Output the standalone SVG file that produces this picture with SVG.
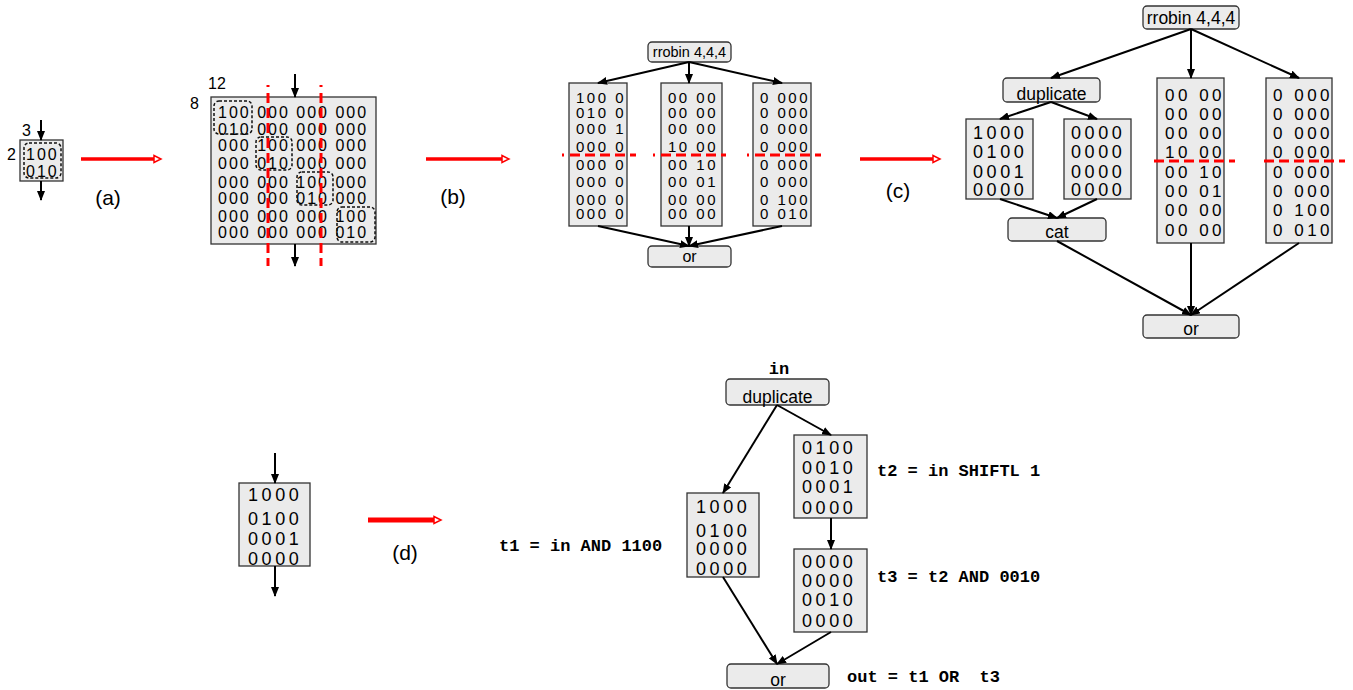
<svg xmlns="http://www.w3.org/2000/svg" width="1353" height="690" viewBox="0 0 1353 690">
<style>
.box{fill:#ebebeb;stroke:#333;stroke-width:1.3}
.dash{fill:none;stroke:#111;stroke-width:1.5;stroke-dasharray:3 2}
.ed{fill:none;stroke:#000;stroke-width:2;marker-end:url(#ah)}
.red{fill:none;stroke:#f00;stroke-width:3.5;marker-end:url(#rh)}
.rd{fill:none;stroke:#f00;stroke-width:3;stroke-dasharray:2 6 10 5 10 5 10 5 10 5 10 5 10 5 10 5 10 5 10 5 10 5 10 5 10 5 10 5}
.rdc{fill:none;stroke:#f00;stroke-width:3;stroke-dasharray:10 5}
text{font-family:"Liberation Sans",Arial,sans-serif;fill:#000}
.m15{font-size:16px;letter-spacing:2px}
.m14{font-size:15px;letter-spacing:2.5px}
.m17{font-size:17px;letter-spacing:3.5px}
.m17w{font-size:18px;letter-spacing:3.6px}
.cap{font-size:21px;text-anchor:middle}
.num{font-size:16px}
.code{font-family:"Liberation Mono","Courier New",monospace;font-weight:bold;font-size:17px;white-space:pre}
</style>
<defs>
<marker id="ah" markerUnits="userSpaceOnUse" markerWidth="10" markerHeight="8" refX="9" refY="4" orient="auto">
<path d="M0,0 L10,4 L0,8 z" fill="#000"/>
</marker>
<marker id="rh" markerUnits="userSpaceOnUse" markerWidth="10" markerHeight="10" refX="2" refY="5" orient="auto">
<path d="M1,1.5 L8,5 L1,8.5 z" fill="#fff" stroke="#f00" stroke-width="1.5"/>
</marker>
</defs>

<!-- (a) small -->
<g id="a-small">
<rect class="box" x="20" y="140" width="43" height="41"/>
<rect class="dash" x="24" y="143" width="37" height="35" rx="5"/>
<text class="m15" x="26" y="160">100</text>
<text class="m15" x="26" y="177">010</text>
<text class="num" x="22" y="136">3</text>
<text class="num" x="7" y="160">2</text>
</g>
<text class="cap" x="108" y="205">(a)</text>

<!-- (a) big -->
<g id="a-big">
<rect class="box" x="211" y="97" width="165" height="147"/>
<text class="m15" x="218" y="117.7">100 000 000 000</text>
<text class="m15" x="218" y="134.7">010 000 000 000</text>
<text class="m15" x="218" y="151.4">000 100 000 000</text>
<text class="m15" x="218" y="169">000 010 000 000</text>
<text class="m15" x="218" y="187.7">000 000 100 000</text>
<text class="m15" x="218" y="203.7">000 000 010 000</text>
<text class="m15" x="218" y="222">000 000 000 100</text>
<text class="m15" x="218" y="238.4">000 000 000 010</text>
<rect class="dash" x="214" y="101" width="38" height="33" rx="5"/>
<rect class="dash" x="256" y="137" width="36" height="33" rx="5"/>
<rect class="dash" x="297" y="172" width="36" height="33" rx="5"/>
<rect class="dash" x="337" y="207" width="38" height="35" rx="5"/>
<text class="num" x="208" y="89">12</text>
<text class="num" x="190" y="109">8</text>
</g>
<text class="cap" x="453" y="204">(b)</text>

<!-- (b) -->
<g id="b-rrobin"><rect class="box" x="648" y="42" width="83" height="20" rx="4"/><text x="689.5" y="57" style="font-size:14.5px;text-anchor:middle">rrobin 4,4,4</text></g>
<g id="b-m1"><rect class="box" x="569" y="83" width="58" height="143"/>
<text class="m14" x="576" y="103.3">100 0</text><text class="m14" x="576" y="117.7">010 0</text><text class="m14" x="576" y="134.3">000 1</text><text class="m14" x="576" y="151.7">000 0</text><text class="m14" x="576" y="170">000 0</text><text class="m14" x="576" y="186.7">000 0</text><text class="m14" x="576" y="205">000 0</text><text class="m14" x="576" y="219.3">000 0</text></g>
<g id="b-m2"><rect class="box" x="661" y="83" width="61" height="143"/>
<text class="m14" x="668" y="103.3">00 00</text><text class="m14" x="668" y="117.7">00 00</text><text class="m14" x="668" y="134.3">00 00</text><text class="m14" x="668" y="151.7">10 00</text><text class="m14" x="668" y="170">00 10</text><text class="m14" x="668" y="186.7">00 01</text><text class="m14" x="668" y="205">00 00</text><text class="m14" x="668" y="219.3">00 00</text></g>
<g id="b-m3"><rect class="box" x="753" y="83" width="58" height="143"/>
<text class="m14" x="760" y="103.3">0 000</text><text class="m14" x="760" y="117.7">0 000</text><text class="m14" x="760" y="134.3">0 000</text><text class="m14" x="760" y="151.7">0 000</text><text class="m14" x="760" y="170">0 000</text><text class="m14" x="760" y="186.7">0 000</text><text class="m14" x="760" y="205">0 100</text><text class="m14" x="760" y="219.3">0 010</text></g>
<g id="b-or"><rect class="box" x="648" y="246" width="83" height="21" rx="4"/><text x="689.5" y="262" style="font-size:16px;text-anchor:middle">or</text></g>
<text class="cap" x="898" y="198">(c)</text>

<!-- (c) -->
<g id="c-rrobin"><rect class="box" x="1143" y="6" width="96" height="23" rx="4"/><text x="1191" y="24" style="font-size:17.5px;text-anchor:middle">rrobin 4,4,4</text></g>
<g id="c-dup"><rect class="box" x="1003" y="78" width="97" height="24" rx="4"/><text x="1051.5" y="100" style="font-size:17.5px;text-anchor:middle">duplicate</text></g>
<g id="c-m1"><rect class="box" x="966" y="119" width="67" height="80"/>
<text class="m17w" x="973" y="139">1000</text><text class="m17w" x="973" y="158">0100</text><text class="m17w" x="973" y="178">0001</text><text class="m17w" x="973" y="196">0000</text></g>
<g id="c-m2"><rect class="box" x="1064" y="119" width="67" height="80"/>
<text class="m17w" x="1071" y="139">0000</text><text class="m17w" x="1071" y="158">0000</text><text class="m17w" x="1071" y="178">0000</text><text class="m17w" x="1071" y="196">0000</text></g>
<g id="c-cat"><rect class="box" x="1008" y="218" width="98" height="23" rx="4"/><text x="1057" y="238" style="font-size:17.5px;text-anchor:middle">cat</text></g>
<g id="c-m3"><rect class="box" x="1157" y="78" width="67" height="165"/>
<text class="m17" x="1165" y="100.5">00 00</text><text class="m17" x="1165" y="119.8">00 00</text><text class="m17" x="1165" y="139">00 00</text><text class="m17" x="1165" y="158.3">10 00</text><text class="m17" x="1165" y="177.6">00 10</text><text class="m17" x="1165" y="196.9">00 01</text><text class="m17" x="1165" y="216.2">00 00</text><text class="m17" x="1165" y="235.5">00 00</text></g>
<g id="c-m4"><rect class="box" x="1266" y="78" width="66" height="165"/>
<text class="m17" x="1273" y="100.5">0 000</text><text class="m17" x="1273" y="119.8">0 000</text><text class="m17" x="1273" y="139">0 000</text><text class="m17" x="1273" y="158.3">0 000</text><text class="m17" x="1273" y="177.6">0 000</text><text class="m17" x="1273" y="196.9">0 000</text><text class="m17" x="1273" y="216.2">0 100</text><text class="m17" x="1273" y="235.5">0 010</text></g>
<g id="c-or"><rect class="box" x="1143" y="315" width="96" height="23" rx="4"/><text x="1191" y="335" style="font-size:17.5px;text-anchor:middle">or</text></g>

<!-- (d) left -->
<g id="d-left"><rect class="box" x="239" y="483" width="71" height="83"/>
<text class="m17w" x="248" y="501">1000</text><text class="m17w" x="248" y="525">0100</text><text class="m17w" x="248" y="545">0001</text><text class="m17w" x="248" y="565">0000</text></g>
<text class="cap" x="405" y="560">(d)</text>

<!-- (d) right -->
<text class="code" x="779" y="374" text-anchor="middle">in</text>
<g id="d-dup"><rect class="box" x="726" y="379" width="103" height="26" rx="4"/><text x="777.5" y="403" style="font-size:17.5px;text-anchor:middle">duplicate</text></g>
<g id="d-t1"><rect class="box" x="687" y="493" width="72" height="84"/>
<text class="m17w" x="696" y="513">1000</text><text class="m17w" x="696" y="537">0100</text><text class="m17w" x="696" y="555">0000</text><text class="m17w" x="696" y="575">0000</text></g>
<g id="d-t2"><rect class="box" x="794" y="435" width="73" height="83"/>
<text class="m17w" x="802" y="454">0100</text><text class="m17w" x="802" y="474">0010</text><text class="m17w" x="802" y="493">0001</text><text class="m17w" x="802" y="514">0000</text></g>
<g id="d-t3"><rect class="box" x="794" y="549" width="73" height="83"/>
<text class="m17w" x="802" y="568">0000</text><text class="m17w" x="802" y="587">0000</text><text class="m17w" x="802" y="606">0010</text><text class="m17w" x="802" y="627">0000</text></g>
<g id="d-or"><rect class="box" x="727" y="664" width="102" height="24" rx="4"/><text x="778" y="686" style="font-size:17.5px;text-anchor:middle">or</text></g>
<text class="code" x="499" y="551">t1 = in AND 1100</text>
<text class="code" x="877" y="476">t2 = in SHIFTL 1</text>
<text class="code" x="877" y="582">t3 = t2 AND 0010</text>
<text class="code" x="847" y="682">out = t1 OR  t3</text>

<!-- connectors -->
<g id="connectors">
<line class="ed" x1="41" y1="120" x2="41" y2="140"/>
<line class="ed" x1="41" y1="181" x2="41" y2="200"/>
<line class="red" x1="81" y1="159" x2="155" y2="159"/>
<line class="ed" x1="295" y1="74" x2="295" y2="97"/>
<line class="ed" x1="295" y1="244" x2="295" y2="266"/>
<line class="rd" x1="268" y1="85" x2="268" y2="266"/>
<line class="rd" x1="321" y1="85" x2="321" y2="266"/>
<line class="red" x1="426" y1="159" x2="503" y2="159"/>
<line class="ed" x1="689" y1="62" x2="598" y2="83"/>
<line class="ed" x1="689" y1="62" x2="689" y2="83"/>
<line class="ed" x1="689" y1="62" x2="782" y2="83"/>
<line class="ed" x1="598" y1="226" x2="689" y2="246"/>
<line class="ed" x1="689" y1="226" x2="689" y2="246"/>
<line class="ed" x1="782" y1="226" x2="689" y2="246"/>
<line class="rd" x1="562" y1="155" x2="636" y2="155"/>
<line class="rd" x1="653" y1="155" x2="726" y2="155"/>
<line class="rd" x1="747" y1="155" x2="821" y2="155"/>
<line class="red" x1="860" y1="159" x2="934" y2="159"/>
<line class="ed" x1="1191" y1="29" x2="1051" y2="78"/>
<line class="ed" x1="1191" y1="29" x2="1191" y2="78"/>
<line class="ed" x1="1191" y1="29" x2="1299" y2="78"/>
<line class="ed" x1="1051" y1="102" x2="1000" y2="119"/>
<line class="ed" x1="1051" y1="102" x2="1097" y2="119"/>
<line class="ed" x1="1000" y1="199" x2="1057" y2="218"/>
<line class="ed" x1="1097" y1="199" x2="1057" y2="218"/>
<line class="ed" x1="1057" y1="241" x2="1191" y2="315"/>
<line class="ed" x1="1191" y1="243" x2="1191" y2="315"/>
<line class="ed" x1="1299" y1="243" x2="1191" y2="315"/>
<line class="rdc" x1="1154" y1="161" x2="1235" y2="161"/>
<line class="rdc" x1="1264" y1="161" x2="1345" y2="161"/>
<line class="ed" x1="275" y1="453" x2="275" y2="483"/>
<line class="ed" x1="275" y1="566" x2="275" y2="596"/>
<line class="red" x1="368" y1="520" x2="435" y2="520" style="stroke-width:5"/>
<line class="ed" x1="777" y1="405" x2="723" y2="493"/>
<line class="ed" x1="777" y1="405" x2="831" y2="435"/>
<line class="ed" x1="831" y1="518" x2="831" y2="549"/>
<line class="ed" x1="723" y1="577" x2="777" y2="664"/>
<line class="ed" x1="831" y1="632" x2="777" y2="664"/>
</g>
</svg>
